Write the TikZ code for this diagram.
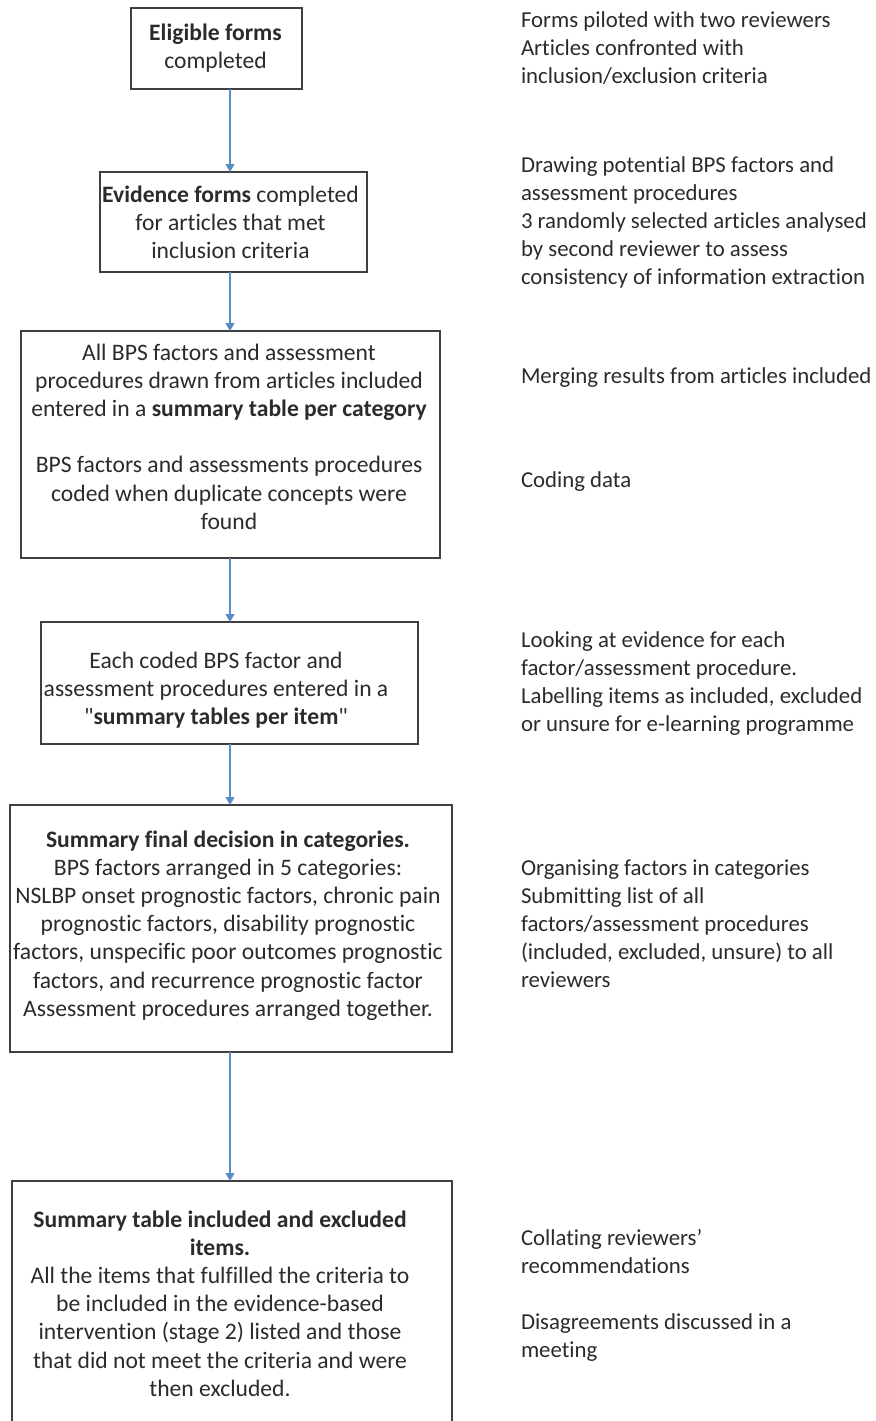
\documentclass[tikz,border=0pt]{standalone}
\usepackage{fontspec}
\setmainfont{Carlito}[Ligatures={TeXOff,NoCommon}]
\usetikzlibrary{arrows.meta}
\definecolor{inkc}{HTML}{2B2B2B}
\definecolor{framec}{HTML}{3F3F3F}
\definecolor{flowc}{HTML}{5B8BC4}
\begin{document}
\begin{tikzpicture}[x=0.5pt,y=-0.5pt,
  every node/.style={inner sep=0pt,outer sep=0pt},
  stagebox/.style={draw=framec,line width=0.75pt,fill=white},
  stagetext/.style={anchor=north,align=center,text=inkc,
    font=\fontsize{11.8pt}{14.1pt}\selectfont},
  notetext/.style={anchor=north west,align=left,text=inkc,
    font=\fontsize{11.4pt}{14.1pt}\selectfont},
  flow/.style={draw=flowc,line width=0.65pt,
    -{Triangle[width=4.5pt,length=4pt]}}]
\fill[white] (0,0) rectangle (875,1421);
\useasboundingbox (0,0) rectangle (875,1421);
\clip (0,0) rectangle (875,1421);

% stage boxes
\node[stagebox,minimum width=85.5pt,minimum height=40.5pt]  (b1) at (216.5,48.5) {};
\node[stagebox,minimum width=133.5pt,minimum height=50pt]   (b2) at (233.5,222) {};
\node[stagebox,minimum width=209.5pt,minimum height=113.5pt](b3) at (230.5,444.5) {};
\node[stagebox,minimum width=188.5pt,minimum height=61pt]   (b4) at (229.5,683) {};
\node[stagebox,minimum width=221pt,minimum height=123.5pt]  (b5) at (231,928.5) {};
\node[stagebox,minimum width=220pt,minimum height=129.5pt]  (b6) at (232,1310.5) {};

% stage texts
\node[stagetext] (t1) at (215.5,20.3) {\strut\textbf{Eligible forms}\\completed};
\node[stagetext] (t2) at (230.5,182.3) {\strut\textbf{Evidence forms} completed\\for articles that met\\inclusion criteria};
\node[stagetext] (t3) at (229,340.3) {\strut All BPS factors and assessment\\procedures drawn from articles included\\entered in a \textbf{summary table per category}\\[14.1pt]BPS factors and assessments procedures\\coded when duplicate concepts were\\found};
\node[stagetext] (t4) at (216,648.3) {\strut Each coded BPS factor and\\assessment procedures entered in a\\"\textbf{summary tables per item}"};
\node[stagetext] (t5) at (228,827.3) {\strut\textbf{Summary final decision in categories.}\\BPS factors arranged in 5 categories:\\NSLBP onset prognostic factors, chronic pain\\prognostic factors, disability prognostic\\factors, unspecific poor outcomes prognostic\\factors, and recurrence prognostic factor\\Assessment procedures arranged together.};
\node[stagetext] (t6) at (220,1207.3) {\strut\textbf{Summary table included and excluded}\\\textbf{items.}\\All the items that fulfilled the criteria to\\be included in the evidence-based\\intervention (stage 2) listed and those\\that did not meet the criteria and were\\then excluded.};

% notes on the right
\node[notetext] (n1) at (521,7.3) {\strut Forms piloted with two reviewers\\Articles confronted with\\inclusion/exclusion criteria};
\node[notetext] (n2) at (521,152.3) {\strut Drawing potential BPS factors and\\assessment procedures\\3 randomly selected articles analysed\\by second reviewer to assess\\consistency of information extraction};
\node[notetext] (n3) at (521,363.3) {\strut Merging results from articles included};
\node[notetext] (n4) at (521,467.3) {\strut Coding data};
\node[notetext] (n5) at (521,627.3) {\strut Looking at evidence for each\\factor/assessment procedure.\\Labelling items as included, excluded\\or unsure for e-learning programme};
\node[notetext] (n6) at (521,855.3) {\strut Organising factors in categories\\Submitting list of all\\factors/assessment procedures\\(included, excluded, unsure) to all\\reviewers};
\node[notetext] (n7) at (521,1225.3) {\strut Collating reviewers’\\recommendations\\[14.1pt]Disagreements discussed in a\\meeting};

% connectors
\coordinate (ax) at (230,0);
\draw[flow] (b1.south -| ax) -- (b2.north -| ax);
\draw[flow] (b2.south -| ax) -- (b3.north -| ax);
\draw[flow] (b3.south -| ax) -- (b4.north -| ax);
\draw[flow] (b4.south -| ax) -- (b5.north -| ax);
\draw[flow] (b5.south -| ax) -- (b6.north -| ax);
\end{tikzpicture}
\end{document}
